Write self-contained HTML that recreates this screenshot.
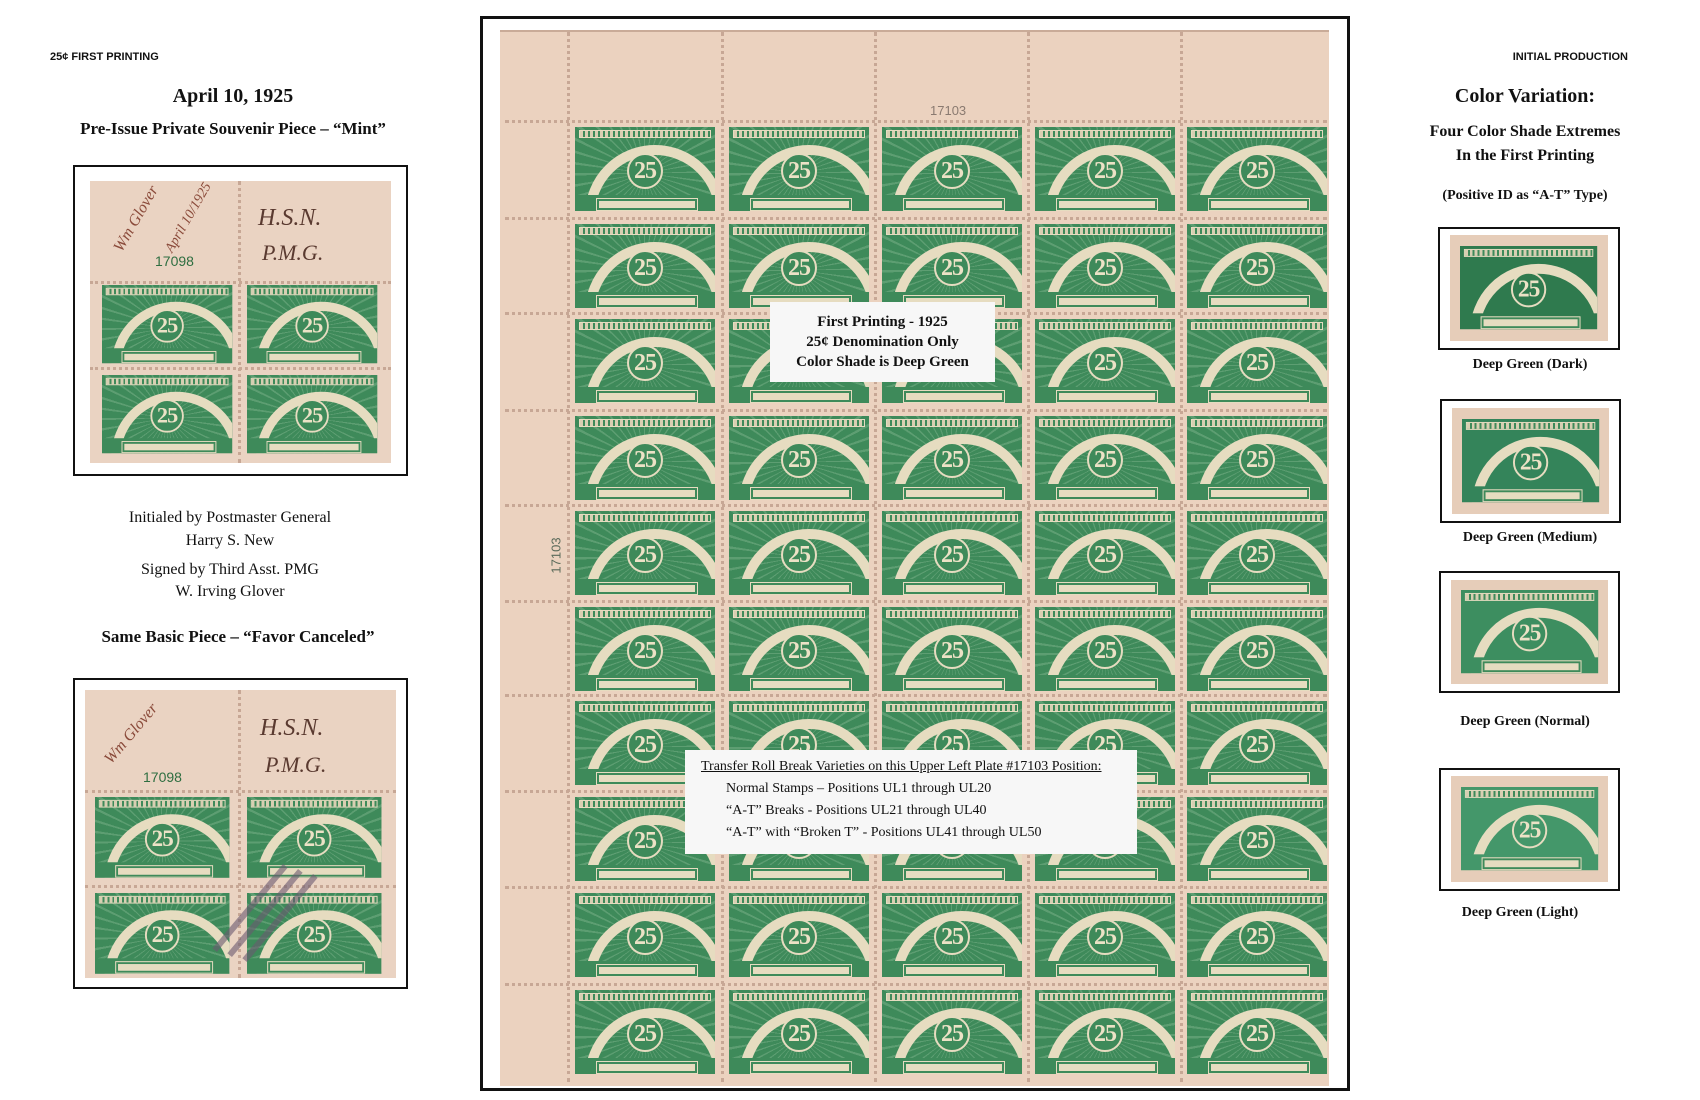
<!DOCTYPE html>
<html><head><meta charset="utf-8"><style>
*{margin:0;padding:0;box-sizing:border-box}
body{width:1700px;height:1100px;background:#fff;position:relative;overflow:hidden;font-family:"Liberation Serif",serif;color:#111}
.a{position:absolute}
.c{position:absolute;text-align:center;white-space:nowrap}
.sm{font-family:"Liberation Sans",sans-serif;font-weight:bold;font-size:11px}
.s{position:absolute;width:140px;height:84px;background:repeating-conic-gradient(from -90deg at 50% 55%,#3e8a5a 0 7deg,#5d9e72 7deg 9deg) #3e8a5a;overflow:hidden;transform-origin:0 0}
.s::before{content:"";position:absolute;left:10px;top:18px;width:120px;height:120px;border:10px solid #e6dcc0;border-radius:50%}
.s::after{content:"";position:absolute;left:22px;top:72px;width:96px;height:7px;background:#e6dcc0;border:2px solid #3e8a5a;outline:1px solid #e6dcc0}
.s i{position:absolute;left:4px;top:3px;right:4px;height:8px;border:1px solid #e6dcc0;background:repeating-linear-gradient(90deg,#d8cfb2 0 3px,#3e8a5a 3px 5px)}
.s b{position:absolute;left:52px;top:26px;width:36px;height:36px;border:2px solid #e6dcc0;border-radius:50%;font:bold 24px/32px "Liberation Serif",serif;color:#ece2c6;text-align:center;letter-spacing:-1px;background:#3e8a5a}
.s u{position:absolute;left:0;top:68px;width:140px;height:20px;background:#3e8a5a}
.vp{position:absolute;width:0;border-left:3px dotted #c7a795}
.hp{position:absolute;height:0;border-top:3px dotted #c7a795}
.box{position:absolute;border:2px solid #111;background:#fff}
.note{position:absolute;background:#f7f7f7;font-family:"Liberation Serif",serif}
</style></head><body>

<div class="a sm" style="left:50px;top:51px">25¢ FIRST PRINTING</div>
<div class="c" style="left:0;width:466px;top:85px;font-size:20px;font-weight:bold">April 10, 1925</div>
<div class="c" style="left:0;width:466px;top:119px;font-size:17px;font-weight:bold">Pre-Issue Private Souvenir Piece – “Mint”</div>

<div class="box" style="left:73px;top:165px;width:335px;height:311px"></div>
<div class="a" style="left:90px;top:181px;width:301px;height:282px;background:#ead3c2"></div>
<div class="vp" style="left:238px;top:181px;height:282px"></div>
<div class="hp" style="left:90px;top:281px;width:301px"></div>
<div class="hp" style="left:90px;top:367px;width:301px"></div>
<div class="a" style="left:100px;top:210px;font:italic 16px 'Liberation Serif',serif;color:#8a4a3a;transform:rotate(-60deg)">Wm Glover</div>
<div class="a" style="left:150px;top:210px;font:italic 14px 'Liberation Serif',serif;color:#8a4a3a;transform:rotate(-60deg)">April 10/1925</div>
<div class="a" style="left:258px;top:205px;font:italic 24px 'Liberation Serif',serif;color:#5a3a30">H.S.N.</div>
<div class="a" style="left:262px;top:240px;font:italic 22px 'Liberation Serif',serif;color:#5a3a30">P.M.G.</div>
<div class="a" style="left:155px;top:253px;font:14px 'Liberation Sans',sans-serif;color:#2e6e40">17098</div>
<div class="s" style="left:102px;top:285px;transform:scale(.93)"><i></i><u></u><b>25</b></div>
<div class="s" style="left:247px;top:285px;transform:scale(.93)"><i></i><u></u><b>25</b></div>
<div class="s" style="left:102px;top:375px;transform:scale(.93)"><i></i><u></u><b>25</b></div>
<div class="s" style="left:247px;top:375px;transform:scale(.93)"><i></i><u></u><b>25</b></div>

<div class="c" style="left:0;width:460px;top:506px;font-size:16px;line-height:23px">Initialed by Postmaster General<br>Harry S. New</div>
<div class="c" style="left:0;width:460px;top:559px;font-size:16px;line-height:22px">Signed by Third Asst. PMG<br>W. Irving Glover</div>
<div class="c" style="left:0;width:476px;top:627px;font-size:17px;font-weight:bold">Same Basic Piece – “Favor Canceled”</div>

<div class="box" style="left:73px;top:678px;width:335px;height:311px"></div>
<div class="a" style="left:85px;top:690px;width:311px;height:288px;background:#ead3c2"></div>
<div class="vp" style="left:238px;top:690px;height:288px"></div>
<div class="hp" style="left:85px;top:790px;width:311px"></div>
<div class="hp" style="left:85px;top:885px;width:311px"></div>
<div class="a" style="left:95px;top:725px;font:italic 16px 'Liberation Serif',serif;color:#8a4a3a;transform:rotate(-50deg)">Wm Glover</div>
<div class="a" style="left:260px;top:715px;font:italic 24px 'Liberation Serif',serif;color:#5a3a30">H.S.N.</div>
<div class="a" style="left:265px;top:752px;font:italic 22px 'Liberation Serif',serif;color:#5a3a30">P.M.G.</div>
<div class="a" style="left:143px;top:769px;font:14px 'Liberation Sans',sans-serif;color:#2e6e40">17098</div>
<div class="s" style="left:95px;top:797px;transform:scale(.96)"><i></i><u></u><b>25</b></div>
<div class="s" style="left:247px;top:797px;transform:scale(.96)"><i></i><u></u><b>25</b></div>
<div class="s" style="left:95px;top:893px;transform:scale(.96)"><i></i><u></u><b>25</b></div>
<div class="s" style="left:247px;top:893px;transform:scale(.96)"><i></i><u></u><b>25</b></div>
<div class="a" style="left:195px;top:905px;width:110px;height:6px;background:#6a5a70;opacity:.6;transform:rotate(-50deg)"></div>
<div class="a" style="left:210px;top:910px;width:110px;height:6px;background:#6a5a70;opacity:.6;transform:rotate(-50deg)"></div>
<div class="a" style="left:225px;top:915px;width:110px;height:6px;background:#6a5a70;opacity:.6;transform:rotate(-50deg)"></div>

<div class="a" style="left:480px;top:16px;width:870px;height:1075px;border:3px solid #111"></div>
<div class="a" style="left:500px;top:30px;width:829px;height:1056px;background:#ebd2bf;border-top:2px solid #c9ab98"></div>
<div class="vp" style="left:567px;top:32px;height:1050px"></div>
<div class="vp" style="left:721px;top:32px;height:1050px"></div>
<div class="vp" style="left:874px;top:32px;height:1050px"></div>
<div class="vp" style="left:1027px;top:32px;height:1050px"></div>
<div class="vp" style="left:1180px;top:32px;height:1050px"></div>
<div class="hp" style="left:505px;top:120px;width:822px"></div>
<div class="hp" style="left:505px;top:217px;width:822px"></div>
<div class="hp" style="left:505px;top:312px;width:822px"></div>
<div class="hp" style="left:505px;top:409px;width:822px"></div>
<div class="hp" style="left:505px;top:504px;width:822px"></div>
<div class="hp" style="left:505px;top:600px;width:822px"></div>
<div class="hp" style="left:505px;top:694px;width:822px"></div>
<div class="hp" style="left:505px;top:790px;width:822px"></div>
<div class="hp" style="left:505px;top:886px;width:822px"></div>
<div class="hp" style="left:505px;top:983px;width:822px"></div>
<div class="a" style="left:930px;top:103px;font:13px 'Liberation Sans',sans-serif;color:#8a7a70">17103</div>
<div class="a" style="left:538px;top:548px;font:13px 'Liberation Sans',sans-serif;color:#5a6a5a;transform:rotate(-90deg)">17103</div>

<div class="s" style="left:575px;top:127px"><i></i><u></u><b>25</b></div><div class="s" style="left:729px;top:127px"><i></i><u></u><b>25</b></div><div class="s" style="left:882px;top:127px"><i></i><u></u><b>25</b></div><div class="s" style="left:1035px;top:127px"><i></i><u></u><b>25</b></div><div class="s" style="left:1187px;top:127px"><i></i><u></u><b>25</b></div>
<div class="s" style="left:575px;top:224px"><i></i><u></u><b>25</b></div><div class="s" style="left:729px;top:224px"><i></i><u></u><b>25</b></div><div class="s" style="left:882px;top:224px"><i></i><u></u><b>25</b></div><div class="s" style="left:1035px;top:224px"><i></i><u></u><b>25</b></div><div class="s" style="left:1187px;top:224px"><i></i><u></u><b>25</b></div>
<div class="s" style="left:575px;top:319px"><i></i><u></u><b>25</b></div><div class="s" style="left:729px;top:319px"><i></i><u></u><b>25</b></div><div class="s" style="left:882px;top:319px"><i></i><u></u><b>25</b></div><div class="s" style="left:1035px;top:319px"><i></i><u></u><b>25</b></div><div class="s" style="left:1187px;top:319px"><i></i><u></u><b>25</b></div>
<div class="s" style="left:575px;top:416px"><i></i><u></u><b>25</b></div><div class="s" style="left:729px;top:416px"><i></i><u></u><b>25</b></div><div class="s" style="left:882px;top:416px"><i></i><u></u><b>25</b></div><div class="s" style="left:1035px;top:416px"><i></i><u></u><b>25</b></div><div class="s" style="left:1187px;top:416px"><i></i><u></u><b>25</b></div>
<div class="s" style="left:575px;top:511px"><i></i><u></u><b>25</b></div><div class="s" style="left:729px;top:511px"><i></i><u></u><b>25</b></div><div class="s" style="left:882px;top:511px"><i></i><u></u><b>25</b></div><div class="s" style="left:1035px;top:511px"><i></i><u></u><b>25</b></div><div class="s" style="left:1187px;top:511px"><i></i><u></u><b>25</b></div>
<div class="s" style="left:575px;top:607px"><i></i><u></u><b>25</b></div><div class="s" style="left:729px;top:607px"><i></i><u></u><b>25</b></div><div class="s" style="left:882px;top:607px"><i></i><u></u><b>25</b></div><div class="s" style="left:1035px;top:607px"><i></i><u></u><b>25</b></div><div class="s" style="left:1187px;top:607px"><i></i><u></u><b>25</b></div>
<div class="s" style="left:575px;top:701px"><i></i><u></u><b>25</b></div><div class="s" style="left:729px;top:701px"><i></i><u></u><b>25</b></div><div class="s" style="left:882px;top:701px"><i></i><u></u><b>25</b></div><div class="s" style="left:1035px;top:701px"><i></i><u></u><b>25</b></div><div class="s" style="left:1187px;top:701px"><i></i><u></u><b>25</b></div>
<div class="s" style="left:575px;top:797px"><i></i><u></u><b>25</b></div><div class="s" style="left:729px;top:797px"><i></i><u></u><b>25</b></div><div class="s" style="left:882px;top:797px"><i></i><u></u><b>25</b></div><div class="s" style="left:1035px;top:797px"><i></i><u></u><b>25</b></div><div class="s" style="left:1187px;top:797px"><i></i><u></u><b>25</b></div>
<div class="s" style="left:575px;top:893px"><i></i><u></u><b>25</b></div><div class="s" style="left:729px;top:893px"><i></i><u></u><b>25</b></div><div class="s" style="left:882px;top:893px"><i></i><u></u><b>25</b></div><div class="s" style="left:1035px;top:893px"><i></i><u></u><b>25</b></div><div class="s" style="left:1187px;top:893px"><i></i><u></u><b>25</b></div>
<div class="s" style="left:575px;top:990px"><i></i><u></u><b>25</b></div><div class="s" style="left:729px;top:990px"><i></i><u></u><b>25</b></div><div class="s" style="left:882px;top:990px"><i></i><u></u><b>25</b></div><div class="s" style="left:1035px;top:990px"><i></i><u></u><b>25</b></div><div class="s" style="left:1187px;top:990px"><i></i><u></u><b>25</b></div>

<div class="note" style="left:770px;top:302px;width:225px;height:80px;text-align:center;font-size:15px;font-weight:bold;line-height:20px;padding-top:10px">First Printing - 1925<br>25¢ Denomination Only<br>Color Shade is Deep Green</div>
<div class="note" style="left:685px;top:750px;width:452px;height:104px;font-size:14px;line-height:22px;padding:6px 0 0 16px">
<div style="text-decoration:underline">Transfer Roll Break Varieties on this Upper Left Plate #17103 Position:</div>
<div style="padding-left:25px">Normal Stamps – Positions UL1 through UL20<br>“A-T” Breaks - Positions UL21 through UL40<br>“A-T” with “Broken T” - Positions UL41 through UL50</div>
</div>

<div class="a sm" style="right:72px;top:51px">INITIAL PRODUCTION</div>
<div class="c" style="left:1430px;width:190px;top:85px;font-size:20px;font-weight:bold">Color Variation:</div>
<div class="c" style="left:1420px;width:210px;top:120px;font-size:16px;font-weight:bold;line-height:24px">Four Color Shade Extremes<br>In the First Printing</div>
<div class="c" style="left:1420px;width:210px;top:188px;font-size:14px;font-weight:bold">(Positive ID as “A-T” Type)</div>

<div class="box" style="left:1438px;top:227px;width:182px;height:123px"></div>
<div class="a" style="left:1450px;top:235px;width:158px;height:106px;background:#e6cdb9"></div>
<div class="s" style="left:1460px;top:246px;transform:scale(.98,.99);background:#2f7a4e"><i></i><u style="background:#2f7a4e"></u><b style="background:#2f7a4e">25</b></div>
<div class="c" style="left:1430px;width:200px;top:357px;font-size:14px;font-weight:bold">Deep Green (Dark)</div>

<div class="box" style="left:1440px;top:399px;width:181px;height:124px"></div>
<div class="a" style="left:1452px;top:408px;width:157px;height:106px;background:#e6cdb9"></div>
<div class="s" style="left:1462px;top:419px;transform:scale(.98,.99);background:#34845a"><i></i><u style="background:#34845a"></u><b style="background:#34845a">25</b></div>
<div class="c" style="left:1430px;width:200px;top:530px;font-size:14px;font-weight:bold">Deep Green (Medium)</div>

<div class="box" style="left:1439px;top:571px;width:181px;height:122px"></div>
<div class="a" style="left:1451px;top:580px;width:157px;height:104px;background:#e6cdb9"></div>
<div class="s" style="left:1461px;top:590px;transform:scale(.98,.99);background:#3d8e60"><i></i><u style="background:#3d8e60"></u><b style="background:#3d8e60">25</b></div>
<div class="c" style="left:1425px;width:200px;top:714px;font-size:14px;font-weight:bold">Deep Green (Normal)</div>

<div class="box" style="left:1439px;top:768px;width:181px;height:123px"></div>
<div class="a" style="left:1451px;top:776px;width:157px;height:106px;background:#e6cdb9"></div>
<div class="s" style="left:1461px;top:787px;transform:scale(.98,.99);background:#44976a"><i></i><u style="background:#44976a"></u><b style="background:#44976a">25</b></div>
<div class="c" style="left:1420px;width:200px;top:905px;font-size:14px;font-weight:bold">Deep Green (Light)</div>
</body></html>
